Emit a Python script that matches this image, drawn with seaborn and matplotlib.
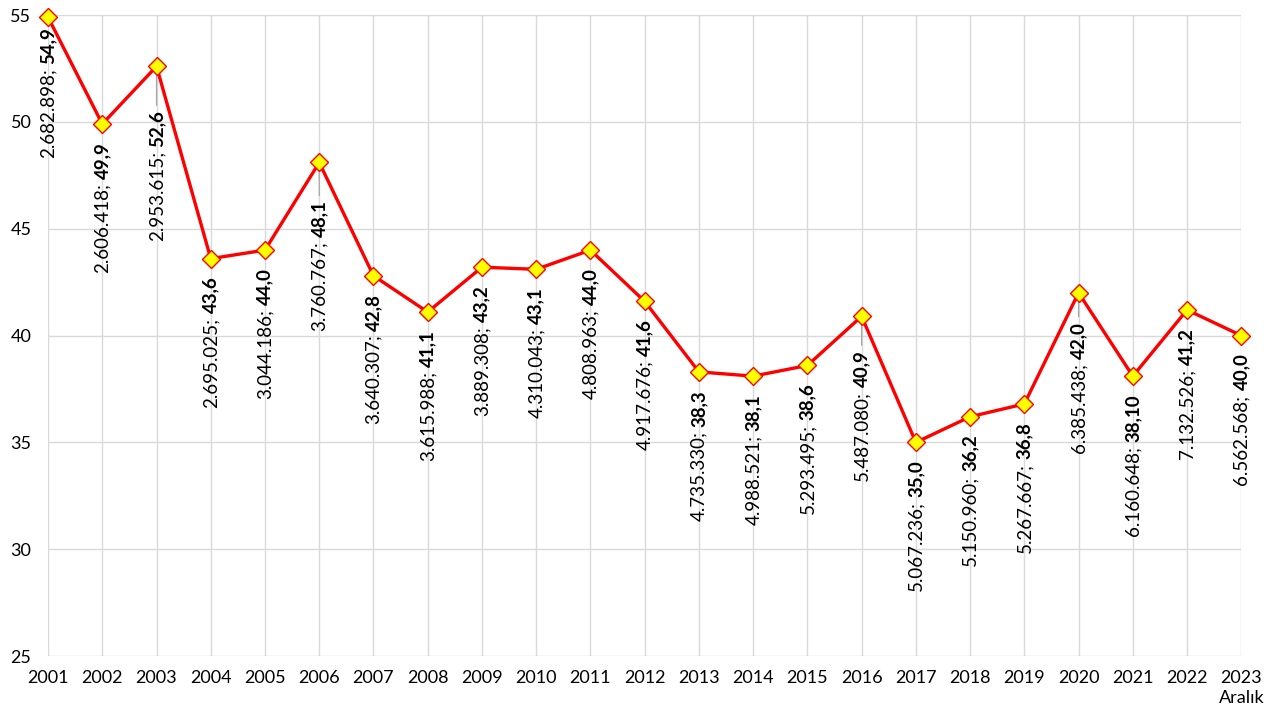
import numpy as np
import pandas as pd
import seaborn as sns
import matplotlib.pyplot as plt

years = list(range(2001, 2024))
counts = ["2.682.898", "2.606.418", "2.953.615", "2.695.025", "3.044.186", "3.760.767",
          "3.640.307", "3.615.988", "3.889.308", "4.310.043", "4.808.963", "4.917.676",
          "4.735.330", "4.988.521", "5.293.495", "5.487.080", "5.067.236", "5.150.960",
          "5.267.667", "6.385.438", "6.160.648", "7.132.526", "6.562.568"]
values = [54.9, 49.9, 52.6, 43.6, 44.0, 48.1, 42.8, 41.1, 43.2, 43.1, 44.0, 41.6,
          38.3, 38.1, 38.6, 40.9, 35.0, 36.2, 36.8, 42.0, 38.1, 41.2, 40.0]
value_labels = ["54,9", "49,9", "52,6", "43,6", "44,0", "48,1", "42,8", "41,1", "43,2",
                "43,1", "44,0", "41,6", "38,3", "38,1", "38,6", "40,9", "35,0", "36,2",
                "36,8", "42,0", "38,10", "41,2", "40,0"]
xtick_labels = [str(y) for y in years[:-1]] + ["2023\nAralık"]

# labels pushed further down (with leader lines) in the original
label_gap = {2001: 10, 2003: 44, 2006: 38, 2016: 34, 2020: 29}

df = pd.DataFrame({"year": years, "value": values})

sns.set_style("white")
plt.rcParams['font.family'] = ['Lato', 'DejaVu Sans']
plt.rcParams['text.color'] = 'black'
plt.rcParams['xtick.labelcolor'] = 'black'
plt.rcParams['ytick.labelcolor'] = 'black'

fig = plt.figure(figsize=(12.81, 7.17), dpi=100)
ax = fig.add_axes([0.0375, 0.085, 0.9315, 0.894])

sns.lineplot(data=df, x="year", y="value", ax=ax, color="#ff0000", linewidth=2.4,
             marker="D", markersize=9, markerfacecolor="#ffff00",
             markeredgecolor="#ff0000", markeredgewidth=1.0, clip_on=False, zorder=3)

ax.set_xlim(2001, 2023)
ax.set_ylim(25, 55)
ax.set_yticks(range(25, 56, 5))
ax.set_xticks(years)
ax.set_xticklabels(xtick_labels, fontsize=13, linespacing=1.3)
ax.tick_params(axis="y", labelsize=13, length=0, pad=12, labelcolor="black")
ax.tick_params(axis="x", length=5, color="#d9d9d9", width=1, pad=5, labelcolor="black")
ax.grid(True, color="#d9d9d9", linewidth=1)
for s in ax.spines.values():
    s.set_visible(False)
ax.set_xlabel("")
ax.set_ylabel("")

fig.canvas.draw()
renderer = fig.canvas.get_renderer()

for yr, cnt, v, vl in zip(years, counts, values, value_labels):
    gap = label_gap.get(yr, 18)
    bold = ax.annotate(vl, (yr, v), xytext=(0, -gap), textcoords="offset pixels",
                       rotation=90, ha="center", va="top", fontsize=13.5,
                       fontweight="bold", color="black", annotation_clip=False)
    bb = bold.get_window_extent(renderer)
    gap2 = gap + bb.height + 4
    ax.annotate(cnt + ";", (yr, v), xytext=(0, -gap2), textcoords="offset pixels",
                rotation=90, ha="center", va="top", fontsize=13.5, color="black",
                annotation_clip=False)
    if gap > 20:
        ax.annotate("", (yr, v), xytext=(0, -gap + 5), textcoords="offset pixels",
                    arrowprops=dict(arrowstyle="-", color="#a6a6a6", lw=0.9,
                                    shrinkA=0, shrinkB=0), zorder=2)

fig.savefig("out.png", dpi=100)
